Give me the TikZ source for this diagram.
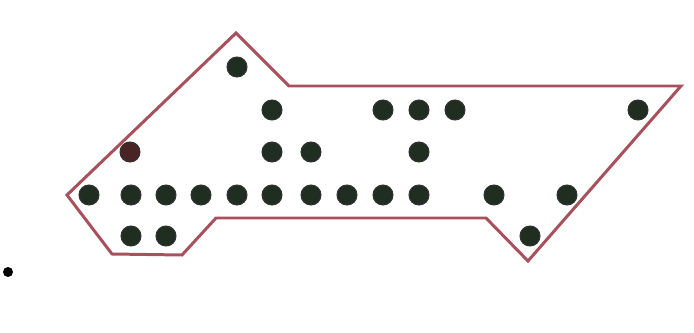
\documentclass[tikz,border=0pt]{standalone}
\usepackage{xcolor}
\usetikzlibrary{positioning}
\definecolor{rim}{HTML}{A8505C}
\definecolor{bead}{HTML}{1F2E20}
\definecolor{beadred}{HTML}{4A2424}
\tikzset{
  pdot/.style={circle,draw=black!80,line width=0.6pt,fill=bead,minimum size=0.4cm,inner sep=0pt},
  pdotred/.style={pdot,fill=beadred},
  rimline/.style={draw=rim,line width=1.7pt,line join=miter}
}
\begin{document}
\begin{tikzpicture}[x=0.02cm,y=-0.02cm]
  \useasboundingbox (0,0) rectangle (694,332);
  % outline of the arrow
  \coordinate (peak) at (236,33);
  \coordinate (shoulder) at (289,86);
  \coordinate (tr) at (681,86);
  \coordinate (tip) at (528,261);
  \coordinate (notch) at (486,218);
  \coordinate (inner) at (216,218);
  \coordinate (bl) at (182,255);
  \coordinate (bll) at (112,254);
  \coordinate (lft) at (67,195);
  \draw[rimline] (peak) -- (shoulder) -- (tr) -- (tip) -- (notch) -- (inner)
    -- (bl) -- (bll) -- (lft) -- cycle;
  % beads
  \node[pdot] (a1) at (237,67) {};
  \foreach \x [count=\i] in {272,383,419,455,638}
    \node[pdot] (b\i) at (\x,110) {};
  \node[pdotred] (c1) at (130,152) {};
  \foreach \x [count=\i from 2] in {272,311,419}
    \node[pdot] (c\i) at (\x,152) {};
  \foreach \x [count=\i] in {89,131,166,201,237,272,311,347,383,419,494,567}
    \node[pdot] (r\i) at (\x,195) {};
  \foreach \x [count=\i] in {131,166,530}
    \node[pdot] (e\i) at (\x,236) {};
  \node[circle,fill=black,minimum size=0.2cm,inner sep=0pt] (mark) at (8,272) {};
\end{tikzpicture}
\end{document}
